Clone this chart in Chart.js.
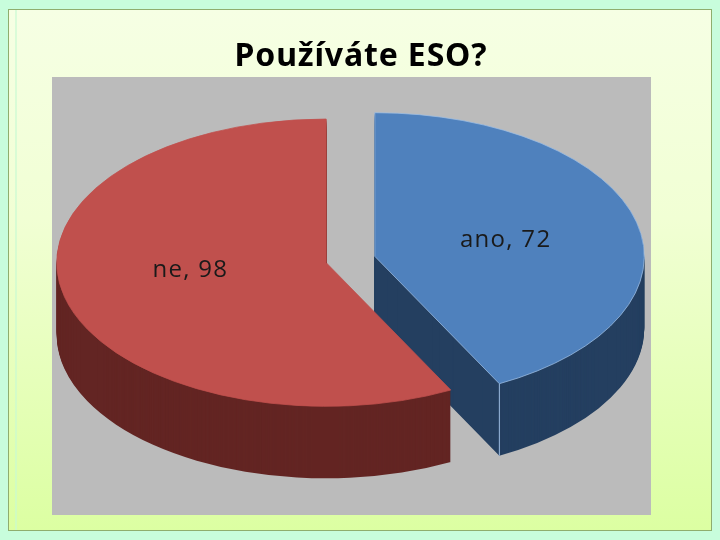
<!DOCTYPE html>
<html>
<head>
<meta charset="utf-8">
<title>Používáte ESO?</title>
<script src="https://cdn.jsdelivr.net/npm/chart.js@4/dist/chart.umd.min.js"></script>
<style>
    html, body { margin: 0; padding: 0; width: 720px; height: 540px; overflow: hidden; background: #c8fddc; }
    #frame {
        position: absolute; left: 8px; top: 9px; width: 702px; height: 520px;
        border: 1px solid #8fae6e;
        background: linear-gradient(to bottom, #f6ffe4 0%, #f1ffd4 40%, #dcffa2 100%);
    }
    #band { position: absolute; left: 15px; top: 10px; width: 2px; height: 520px; background: rgba(200, 250, 210, 0.6); }
    #wrap { position: absolute; left: 0; top: 0; width: 720px; height: 540px; }
</style>
</head>
<body>
<div id="frame"></div>
<div id="band"></div>
<div id="wrap"><canvas id="myChart" width="720" height="540"></canvas></div>
<script>
const kategorie = ['ano', 'ne'];
const hodnoty = [72, 98];
const barvy = ['#4f81bd', '#c0504d'];
const barvyBoku = ['#243f60', '#632523'];
const okraje = ['#9dbde3', '#c0504d'];

// pie is only a flat circle in chart.js, so squash it and stack it for the 3D look
const sklon = 0.533;
const hloubka = 72;
const rozestup = 25;
const posunTextu = [[0, 1], [-5, -10]];

// where the slice sits on screen after the explode and the squash
function vysun(arc) {
    const pul = (arc.startAngle + arc.endAngle) / 2;
    return { x: Math.cos(pul) * rozestup - 1, y: Math.sin(pul) * rozestup * sklon - hloubka / 2 - 0.5 };
}

function natoc(ctx, arc) {
    const v = vysun(arc);
    ctx.translate(v.x, v.y);
    ctx.translate(arc.x, arc.y);
    ctx.scale(1, sklon);
    ctx.translate(-arc.x, -arc.y);
}

const pie3d = {
    id: 'pie3d',
    beforeDraw(chart) {
        const a = chart.chartArea;
        chart.ctx.fillStyle = '#bbbbbb';
        chart.ctx.fillRect(a.left, a.top, a.right - a.left, a.bottom - a.top);
        chart.ctx.letterSpacing = '0.85px';
    },
    beforeDatasetDraw(chart) {
        const ctx = chart.ctx;
        const arcs = chart.getDatasetMeta(0).data;

        // sides first, blue behind red
        arcs.forEach((arc, i) => {
            const puvodni = arc.options.backgroundColor;
            const sirka = arc.options.borderWidth;
            arc.options.backgroundColor = barvyBoku[i];
            arc.options.borderWidth = 0;
            for (let d = hloubka; d > 0; d--) {
                ctx.save();
                ctx.translate(0, d);
                natoc(ctx, arc);
                arc.draw(ctx);
                ctx.restore();
            }
            arc.options.backgroundColor = puvodni;
            arc.options.borderWidth = sirka;
        });

        // light edge down the corner of the blue slice
        const modry = arcs[0];
        const v = vysun(modry);
        const hranaX = modry.x + v.x + Math.cos(modry.endAngle) * modry.outerRadius;
        const hranaY = modry.y + v.y + Math.sin(modry.endAngle) * modry.outerRadius * sklon;
        ctx.strokeStyle = '#9dbde3';
        ctx.lineWidth = 1;
        ctx.beginPath();
        ctx.moveTo(hranaX, hranaY);
        ctx.lineTo(hranaX, hranaY + hloubka);
        ctx.stroke();

        // red side must cover what is behind it, so tops go last
        arcs.forEach(arc => {
            ctx.save();
            natoc(ctx, arc);
            arc.draw(ctx);
            ctx.restore();
        });

        ctx.font = '24px "Open Sans"';
        ctx.letterSpacing = '1.3px';
        ctx.fillStyle = '#1a1a1a';
        ctx.textAlign = 'center';
        ctx.textBaseline = 'middle';
        arcs.forEach((arc, i) => {
            const p = arc.getCenterPoint();
            const v = vysun(arc);
            const x = p.x + v.x + posunTextu[i][0];
            const y = arc.y + v.y + (p.y - arc.y) * sklon + posunTextu[i][1];
            ctx.fillText(kategorie[i] + ', ' + hodnoty[i], x, y);
        });
        ctx.letterSpacing = '0px';

        // everything is drawn, skip the flat default pie
        return false;
    },
    afterLayout(chart) {
        // title sits a bit right of the grey area
        chart.titleBlock.left += 19;
    }
};

new Chart(document.getElementById('myChart'), {
    type: 'pie',
    data: {
        labels: kategorie,
        datasets: [{
            data: hodnoty,
            backgroundColor: barvy,
            borderColor: okraje,
            borderWidth: 1,
            clip: false
        }]
    },
    options: {
        responsive: false,
        animation: false,
        radius: 269.5,
        layout: { padding: { left: 52, right: 69, top: 0, bottom: 25 } },
        plugins: {
            legend: { display: false },
            tooltip: { enabled: false },
            title: {
                display: true,
                text: 'Používáte ESO?',
                color: '#000000',
                font: { family: '"Noto Sans"', size: 32, weight: 'bold', lineHeight: 1.2 },
                padding: { top: 38, bottom: 0.6 }
            }
        }
    },
    plugins: [pie3d]
});
</script>
</body>
</html>
